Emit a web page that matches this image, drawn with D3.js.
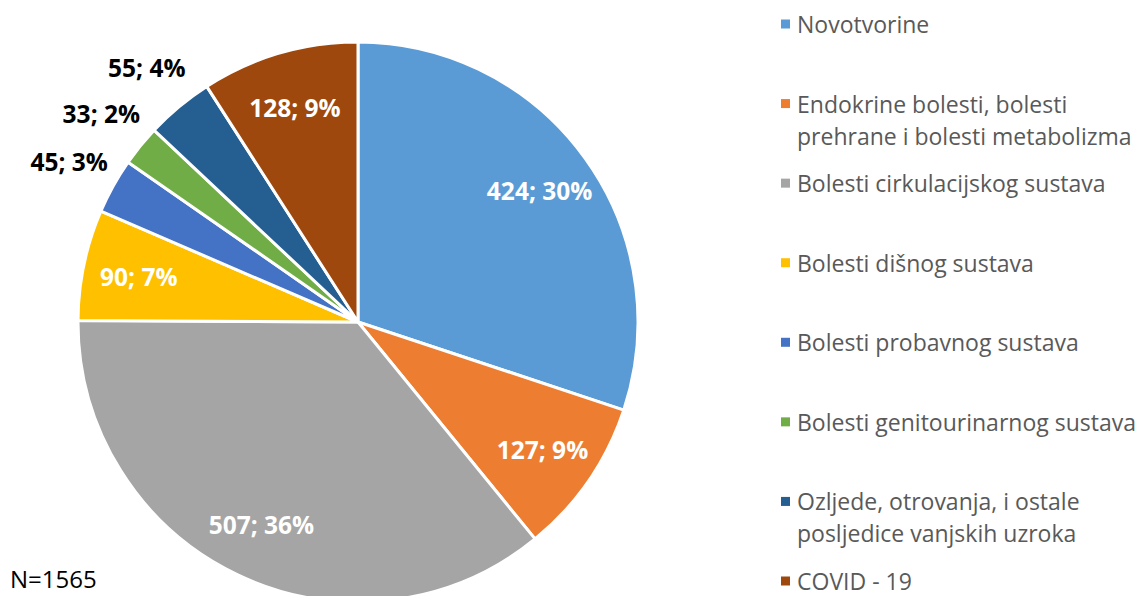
<!DOCTYPE html>
<html>
<head>
<meta charset="utf-8">
<script src="https://cdn.jsdelivr.net/npm/d3@7"></script>
<style>
  body { margin: 0; background: #fff; }
  svg text { font-family: "Open Sans", Lato, sans-serif; }
</style>
</head>
<body>
<div id="chart"></div>
<script>
// categories and values
const categories = [
  "Novotvorine",
  "Endokrine bolesti, bolesti|prehrane i bolesti metabolizma",
  "Bolesti cirkulacijskog sustava",
  "Bolesti dišnog sustava",
  "Bolesti probavnog sustava",
  "Bolesti genitourinarnog sustava",
  "Ozljede, otrovanja, i ostale|posljedice vanjskih uzroka",
  "COVID - 19"
];
const values = [424, 127, 507, 90, 45, 33, 55, 128];
const percents = ["30%", "9%", "36%", "7%", "3%", "2%", "4%", "9%"];
const colors = ["#5B9BD5", "#ED7D31", "#A5A5A5", "#FFC000", "#4472C4", "#70AD47", "#255E91", "#9E480E"];
const outside = [false, false, false, false, true, true, true, false];
const totalN = 1565;

const width = 1140;
const height = 596;
const cx = 358, cy = 322, radius = 280;

const svg = d3.select("#chart")
  .append("svg")
  .attr("width", width)
  .attr("height", height);

const data = values.map((v, i) => ({ name: categories[i], value: v, i: i }));

const pie = d3.pie()
  .value(d => d.value)
  .sort(null);

const arcs = pie(data);

const arc = d3.arc()
  .innerRadius(0)
  .outerRadius(radius);

const labelArcIn = d3.arc().innerRadius(radius * 0.8).outerRadius(radius * 0.8);
const labelArcOut = d3.arc().innerRadius(radius * 1.18).outerRadius(radius * 1.18);

const g = svg.append("g")
  .attr("transform", `translate(${cx},${cy})`);

// slices
g.selectAll("path")
  .data(arcs)
  .enter()
  .append("path")
  .attr("d", arc)
  .attr("fill", d => colors[d.data.i])
  .attr("stroke", "#fff")
  .attr("stroke-width", 3)
  .attr("stroke-linejoin", "round");

// data labels
g.selectAll("text.lbl")
  .data(arcs)
  .enter()
  .append("text")
  .attr("class", "lbl")
  .attr("transform", d => {
    const c = outside[d.data.i] ? labelArcOut.centroid(d) : labelArcIn.centroid(d);
    return `translate(${c[0]},${c[1]})`;
  })
  .attr("text-anchor", "middle")
  .attr("dominant-baseline", "central")
  .attr("font-size", "24.5px")
  .attr("font-weight", "bold")
  .attr("fill", d => outside[d.data.i] ? "#000" : "#fff")
  .text(d => `${d.data.value}; ${percents[d.data.i]}`);

// legend
const legendY = d3.scalePoint()
  .domain(d3.range(categories.length))
  .range([24, 581]);

const legend = svg.append("g");

const item = legend.selectAll("g")
  .data(categories)
  .enter()
  .append("g")
  .attr("transform", (d, i) => `translate(781,${legendY(i)})`);

item.append("rect")
  .attr("x", 0)
  .attr("y", -4.5)
  .attr("width", 9)
  .attr("height", 9)
  .attr("fill", (d, i) => colors[i]);

item.append("text")
  .attr("x", 16)
  .attr("font-size", "23px")
  .attr("fill", "#595959")
  .each(function(d) {
    const lines = d.split("|");
    d3.select(this).selectAll("tspan")
      .data(lines)
      .enter()
      .append("tspan")
      .attr("x", 16)
      .attr("y", (l, k) => k * 32)
      .attr("dominant-baseline", "central")
      .text(l => l);
  });

// N note
svg.append("text")
  .attr("x", 10)
  .attr("y", 578)
  .attr("dominant-baseline", "central")
  .attr("font-size", "24px")
  .attr("fill", "#000")
  .text(`N=${totalN}`);
</script>
</body>
</html>
